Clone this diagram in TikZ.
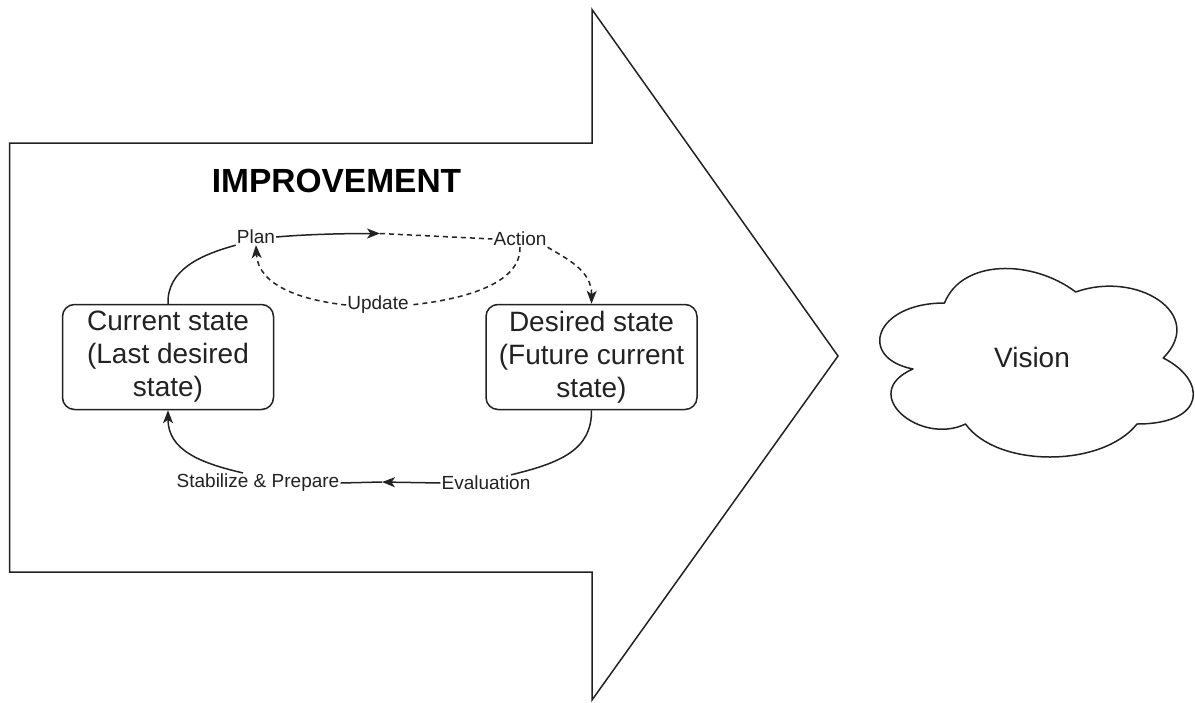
\documentclass[tikz,border=0pt]{standalone}
\usepackage{fontspec}
\setmainfont{Liberation Sans}
\usetikzlibrary{arrows.meta}
\definecolor{ink}{HTML}{222222}
\begin{document}
\begin{tikzpicture}[x=1pt,y=-1pt,
  outline/.style={draw=ink,line width=1.5pt,line join=miter},
  statebox/.style={draw=ink,line width=1.5pt,rounded corners=12pt,minimum width=211pt,minimum height=105pt,
    align=center,text=ink,font=\fontsize{28}{33}\selectfont,inner sep=0pt},
  lbl/.style={text=ink,font=\fontsize{19}{21}\selectfont,inner sep=1pt,fill=white},
  link/.style={ink,line width=1.5pt},
  dlink/.style={ink,line width=1.5pt,dash pattern=on 5pt off 4pt},
  tip/.style={-{Stealth[length=13pt,width=10pt,inset=3.5pt]}}]
\useasboundingbox (0,0) rectangle (1195,702);

% big outline arrow
\draw[outline] (9.5,143) -- (592,143) -- (592,9.5) -- (838,356) -- (592,700) -- (592,572) -- (9.5,572) -- cycle;

% title
\node[text=black,font=\fontsize{33.5}{36}\selectfont\bfseries] (title) at (336.5,181) {IMPROVEMENT};

% states
\node[statebox] (cur) at (168,357) {Current state\\(Last desired\\state)};
\node[statebox] (des) at (591.5,357) {Desired state\\(Future current\\state)};

% cycle labels
\node[lbl] (plan) at (256,237) {Plan};
\node[lbl] (action) at (520,239) {Action};
\node[lbl] (update) at (378,305) {Update};
\node[lbl] (stab) at (258,483) {Stabilize \& Prepare};
\node[lbl] (eval) at (486,483) {Evaluation};

\coordinate (pmid) at (380,233.5);
\coordinate (emid) at (382,482);

% upper loop
\draw[link] (cur.north) .. controls (167,270) and (200,255) .. (plan.south west);
\draw[link,tip] (plan.east) .. controls (310,234) and (350,233.5) .. (pmid);
\draw[dlink] (pmid) -- (action.west);
\draw[dlink,tip] (action.south east) .. controls (565,258) and (592,270) .. (des.north);
\draw[dlink] (action.south) .. controls (521,285) and (460,300) .. (update.east);
\draw[dlink,tip] (update.west) .. controls (300,300) and (258,285) .. (plan.south);

% lower loop
\draw[link] (des.south) .. controls (592,450) and (560,463) .. ([xshift=25pt]eval.north);
\draw[link,tip] (eval.west) -- (emid);
\draw[link] (emid) -- (stab.east);
\draw[link,tip] ([xshift=-15pt]stab.north) .. controls (200,463) and (168,450) .. (cur.south);

% vision cloud
\begin{scope}[shift={(857,248)},x=350pt,y=-220pt]
\draw[outline,line join=round] (0.25,0.25) .. controls (0.05,0.25) and (0,0.5) .. (0.16,0.55)
  .. controls (0,0.66) and (0.18,0.9) .. (0.31,0.8)
  .. controls (0.4,1) and (0.7,1) .. (0.8,0.8)
  .. controls (1,0.8) and (1,0.6) .. (0.875,0.5)
  .. controls (1,0.3) and (0.8,0.1) .. (0.625,0.2)
  .. controls (0.5,0.05) and (0.3,0.05) .. cycle;
\end{scope}
\node[text=ink,font=\fontsize{28}{30}\selectfont] (vision) at (1032,357) {Vision};
\end{tikzpicture}
\end{document}
